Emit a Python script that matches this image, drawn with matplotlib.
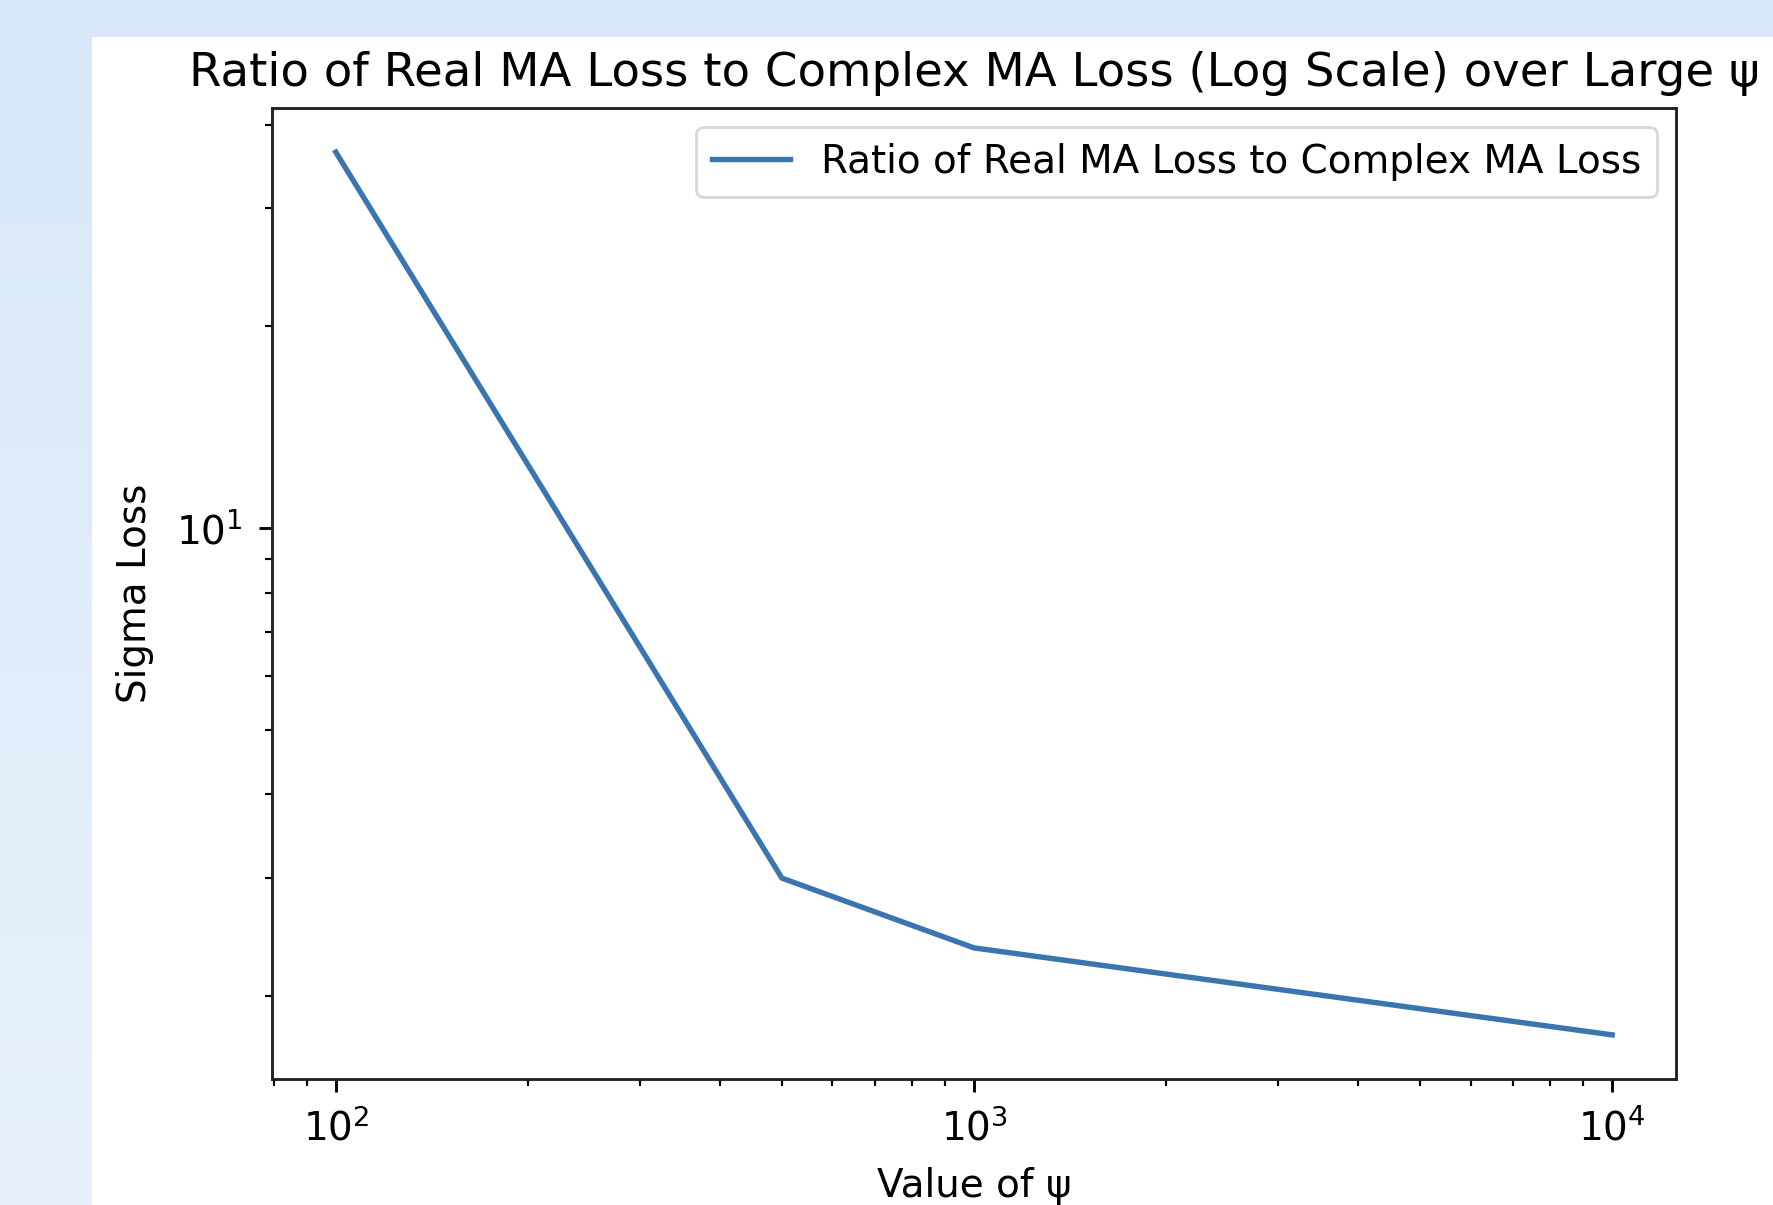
import matplotlib
matplotlib.use("Agg")
import matplotlib.pyplot as plt
from matplotlib.patches import Rectangle
import numpy as np

# Data
psi_values = [100, 500, 1000, 10000]
loss_ratio = [36.4, 3.0, 2.36, 1.75]

title_text = "Ratio of Real MA Loss to Complex MA Loss (Log Scale) over Large ψ"
legend_label = "Ratio of Real MA Loss to Complex MA Loss"
x_label = "Value of ψ"
y_label = "Sigma Loss"

W, H = 1774, 1205
k = 2.6   # scale for lines / ticks
kt = 2.8  # scale for text

fig = plt.figure(figsize=(W / 100, H / 100), dpi=100)
fig.patch.set_facecolor("#dae8f8")

# light-blue gradient for the screenshot background
grad = np.linspace(0, 1, 256).reshape(-1, 1)
bg = fig.add_axes([0, 0, 1, 1], zorder=-10)
top_c = np.array([0xd8, 0xe8, 0xf9]) / 255
bot_c = np.array([0xe8, 0xf1, 0xfb]) / 255
img = top_c[None, None, :] * (1 - grad[:, :, None]) + bot_c[None, None, :] * grad[:, :, None]
bg.imshow(img, aspect="auto", extent=[0, 1, 0, 1], origin="upper")
bg.set_axis_off()
bg.add_patch(Rectangle((92 / W, 0), 1 - 92 / W, 1 - 37 / H, transform=bg.transAxes,
                       facecolor="white", edgecolor="none"))
bg.set_xlim(0, 1)
bg.set_ylim(0, 1)

left, right, top, bottom = 272, 1676, 108, 1079
ax = fig.add_axes([left / W, 1 - bottom / H, (right - left) / W, (bottom - top) / H])

ax.plot(psi_values, loss_ratio, color="#3a75b0", linewidth=1.5 * k, label=legend_label)
ax.set_xscale("log")
ax.set_yscale("log")

ax.set_title(title_text, fontsize=12 * kt, pad=6 * k)
ax.set_xlabel(x_label, fontsize=10 * kt, labelpad=14)
ax.set_ylabel(y_label, fontsize=10 * kt, labelpad=16)

for s in ax.spines.values():
    s.set_linewidth(0.8 * k)
    s.set_color("#222222")
ax.tick_params(which="major", labelsize=10 * kt, length=3.5 * k, width=0.8 * k, pad=12)
ax.tick_params(which="minor", length=2 * k, width=0.6 * k)

leg = ax.legend(loc="upper right", fontsize=10 * kt, frameon=True, handlelength=2.0,
                borderpad=0.4, borderaxespad=0.5)
leg.get_frame().set_linewidth(0.8 * k)
leg.get_frame().set_edgecolor("#d0d0d0")

fig.savefig("out.png", dpi=100, facecolor=fig.get_facecolor())
